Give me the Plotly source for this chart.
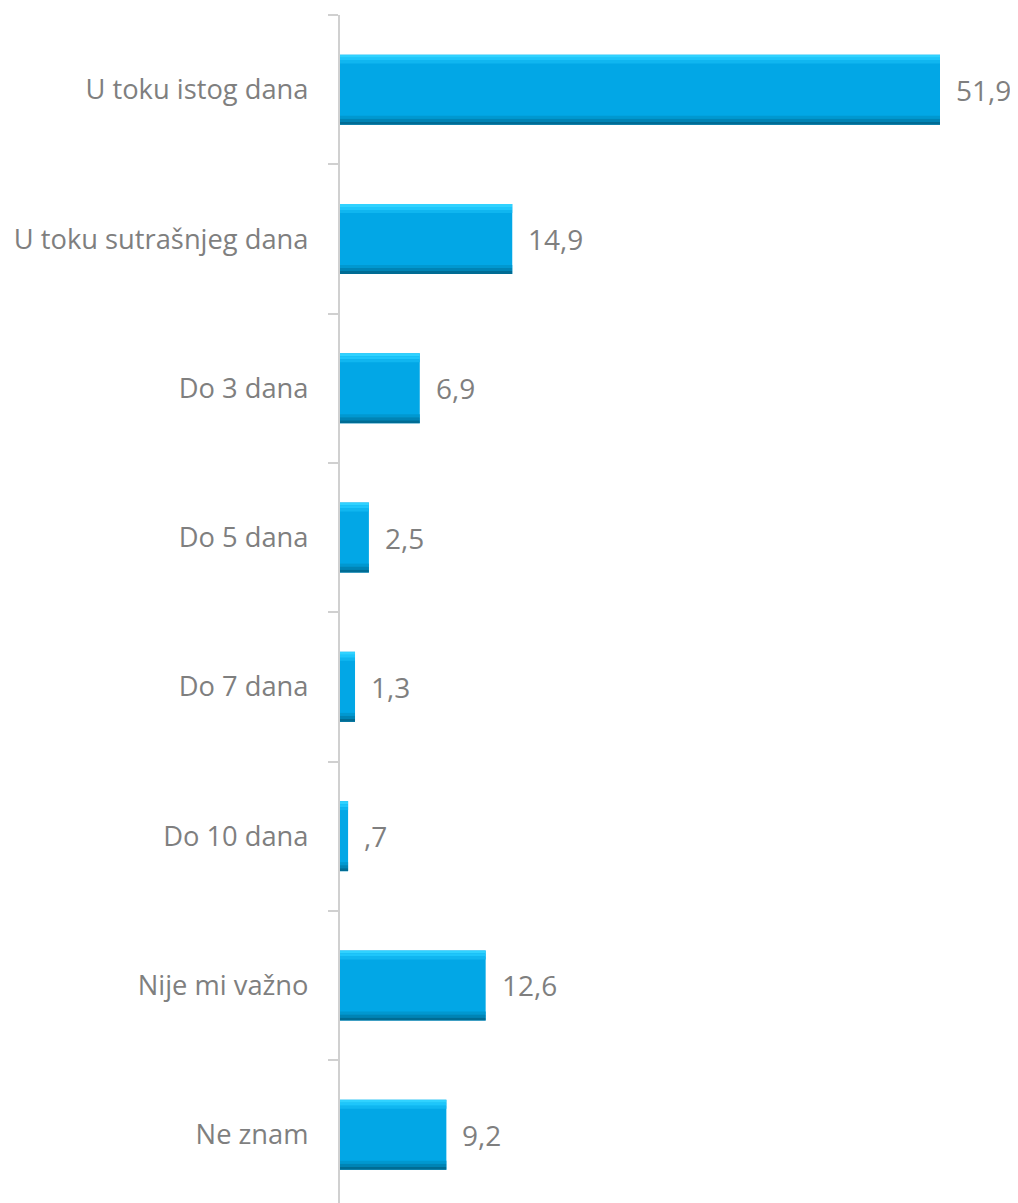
import plotly.graph_objects as go

categories = ["U toku istog dana", "U toku sutrašnjeg dana", "Do 3 dana", "Do 5 dana",
              "Do 7 dana", "Do 10 dana", "Nije mi važno", "Ne znam"]
values = [51.9, 14.9, 6.9, 2.5, 1.3, 0.7, 12.6, 9.2]
value_labels = ["51,9", "14,9", "6,9", "2,5", "1,3", ",7", "12,6", "9,2"]

BAR_W = 0.469
BEVEL = 0.06
FONT = "Open Sans, Lato, sans-serif"

fig = go.Figure()
# main bar body
fig.add_trace(go.Bar(y=categories, x=values, orientation="h", width=BAR_W, offset=-BAR_W / 2,
                     marker=dict(color="#02a7e6", line=dict(width=0)), hoverinfo="skip"))
# top highlight bevel
fig.add_trace(go.Bar(y=categories, x=values, orientation="h", width=BEVEL / 3, offset=-BAR_W / 2,
                     marker=dict(color="#30d2ff", line=dict(width=0)), hoverinfo="skip"))
fig.add_trace(go.Bar(y=categories, x=values, orientation="h", width=BEVEL / 3, offset=-BAR_W / 2 + BEVEL / 3,
                     marker=dict(color="#1ec6fb", line=dict(width=0)), hoverinfo="skip"))
fig.add_trace(go.Bar(y=categories, x=values, orientation="h", width=BEVEL / 3, offset=-BAR_W / 2 + 2 * BEVEL / 3,
                     marker=dict(color="#10b6f0", line=dict(width=0)), hoverinfo="skip"))
# bottom shadow bevel
fig.add_trace(go.Bar(y=categories, x=values, orientation="h", width=BEVEL / 3, offset=BAR_W / 2 - BEVEL,
                     marker=dict(color="#0198d0", line=dict(width=0)), hoverinfo="skip"))
fig.add_trace(go.Bar(y=categories, x=values, orientation="h", width=BEVEL / 3, offset=BAR_W / 2 - 2 * BEVEL / 3,
                     marker=dict(color="#0084b5", line=dict(width=0)), hoverinfo="skip"))
fig.add_trace(go.Bar(y=categories, x=values, orientation="h", width=BEVEL / 3, offset=BAR_W / 2 - BEVEL / 3,
                     marker=dict(color="#006c94", line=dict(width=0)), hoverinfo="skip"))

for c, v, t in zip(categories, values, value_labels):
    fig.add_annotation(x=v, y=c, text=t, showarrow=False, xanchor="left", yanchor="middle",
                       xshift=14, font=dict(family=FONT, size=28, color="#7f7f7f"))

n = len(categories)
fig.update_layout(
    width=1010, height=1195,
    margin=dict(l=332, r=0, t=7, b=0),
    barmode="overlay",
    showlegend=False,
    plot_bgcolor="white", paper_bgcolor="white",
    xaxis=dict(range=[0, 678 / (600 / 51.9)], visible=False, showgrid=False, zeroline=False),
    yaxis=dict(categoryorder="array", categoryarray=categories,
               range=[n - 0.5 - (n * 149.3 - 1188) / 149.3, -0.5],
               showline=True, linecolor="#d0d0d0", linewidth=2,
               ticks="outside", tickson="boundaries", ticklen=10, tickcolor="#d0d0d0", tickwidth=2,
               ticklabelstandoff=24,
               tickfont=dict(family=FONT, size=27.3, color="#7f7f7f"),
               showgrid=False, zeroline=False, automargin=False),
)

fig.write_html("out.html")
